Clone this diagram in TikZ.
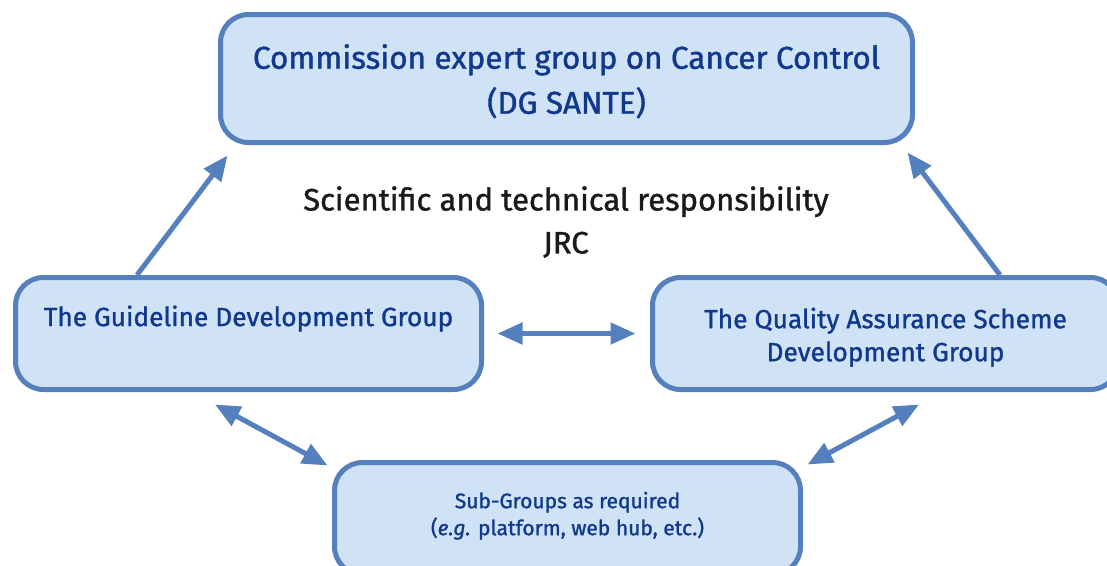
\documentclass[tikz,border=0pt]{standalone}
\usepackage{fontspec}
\setmainfont{Fira Sans}[FakeBold=1.2]
\usetikzlibrary{arrows.meta,calc}
\definecolor{boxline}{RGB}{85,128,190}
\definecolor{boxfill}{RGB}{207,226,246}
\definecolor{boxtext}{RGB}{16,56,140}
\definecolor{midtext}{RGB}{26,26,26}
\tikzset{
  box/.style={draw=boxline, fill=boxfill, line width=5pt, rounded corners=28pt,
    text=boxtext, align=center, inner sep=0pt},
  conn/.style={draw=boxline, line width=5pt, -{Triangle[length=25pt,width=21pt]}},
  conn2/.style={draw=boxline, line width=5pt, {Triangle[length=25pt,width=21pt]}-{Triangle[length=25pt,width=21pt]}},
}
\begin{document}
\begin{tikzpicture}[x=1pt,y=-1pt]
\clip (0,0) rectangle (1107,565);
\fill[white] (0,0) rectangle (1107,565);
\node[box, minimum width=692pt, minimum height=128pt,
  font=\fontsize{31.5}{45}\selectfont] (top) at (566.5,78.5)
  {\rule{0pt}{30pt}Commission expert group on Cancer Control\\(DG SANTE)};
\node[box, minimum width=466pt, minimum height=112pt,
  font=\fontsize{26.3}{33}\selectfont] (left) at (248.5,333.5)
  {\rule{0pt}{28pt}The Guideline Development Group\\\strut};
\node[box, minimum width=466pt, minimum height=112pt,
  font=\fontsize{26.3}{33}\selectfont] (right) at (885.5,333.5)
  {\rule{0pt}{28pt}The Quality Assurance Scheme\\Development Group};
\node[box, minimum width=466pt, minimum height=112pt,
  font=\fontsize{21}{27}\selectfont] (bottom) at (567.5,518.5)
  {Sub-Groups as required\\(\textit{e.g.} platform, web hub, etc.)\rule[-10pt]{0pt}{1pt}};
\node[text=midtext, align=center, font=\fontsize{31}{43}\selectfont] (jrc) at (566,222)
  {Scientific and technical responsibility\\JRC};
\draw[conn] ($(left.north)+(-111.5,0)$) -- ($(top.south west)+(9.5,10.5)$);
\draw[conn] ($(right.north)+(114.5,0)$) -- ($(top.south east)+(-7.5,7.5)$);
\draw[conn2] ($(left.east)+(13.5,0)$) -- ($(right.west)+(-14.5,0)$);
\draw[conn2] ($(left.south)+(-33.5,12.5)$) -- ($(bottom.north west)+(-4.5,5.5)$);
\draw[conn2] ($(bottom.north east)+(4.5,4.5)$) -- ($(right.south)+(33.5,12.5)$);
\end{tikzpicture}
\end{document}
